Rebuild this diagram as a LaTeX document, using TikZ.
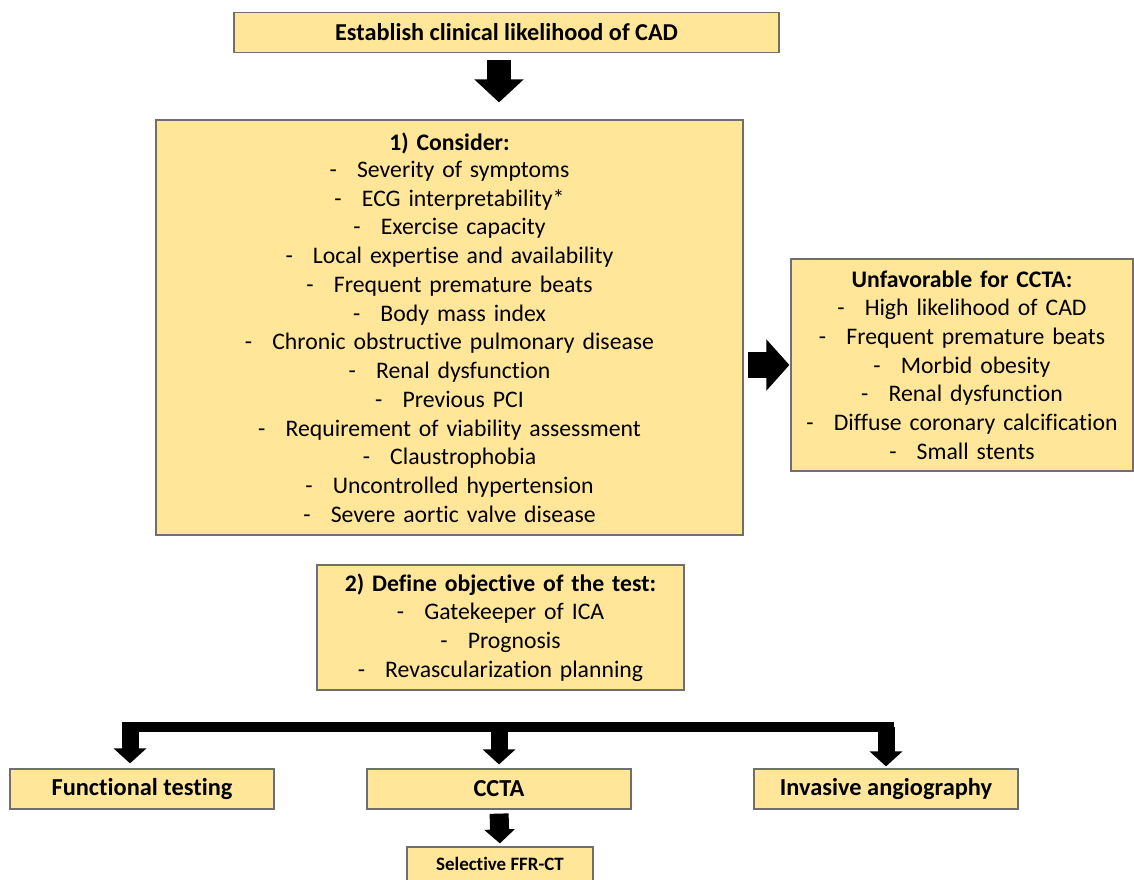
\documentclass[tikz,border=0pt]{standalone}
\usepackage{fontspec}
\setmainfont{Carlito}[Ligatures=NoCommon]
\usetikzlibrary{arrows.meta}
\definecolor{BoxFill}{HTML}{FFE699}
\definecolor{BoxLine}{HTML}{6F6F6F}
\newlength{\pxu}
\setlength{\pxu}{0.75pt}
\newcommand{\itm}[1]{-\hspace{0.85em}#1}

\begin{document}
\begin{tikzpicture}[x=0.75pt,y=-0.75pt,
  box/.style={draw=BoxLine,line width=0.9pt,fill=BoxFill,inner sep=0pt,align=center,
    font=\fontsize{17.8}{21.55}\selectfont},
  blockarrow/.style n args={3}{line width=#1pt,-{Triangle[width=#2pt,length=#3pt]}},
  bar/.style={line width=7.5pt}]
\useasboundingbox (0,0) rectangle (1134,879);

\node[box,minimum width=545\pxu,minimum height=40\pxu,font=\fontsize{18.2}{22}\selectfont] (likelihood) at (506.5,32.5)
  {\textbf{Establish clinical likelihood of CAD}};

\node[box,text width=587\pxu,minimum height=415\pxu] (consider) at (449.5,327.5)
  {\textbf{1) Consider:}\\[-1pt]
   \itm{Severity of symptoms}\\
   \itm{ECG interpretability*}\\
   \itm{Exercise capacity}\\
   \itm{Local expertise and availability}\\
   \itm{Frequent premature beats}\\
   \itm{Body mass index}\\
   \itm{Chronic obstructive pulmonary disease}\\
   \itm{Renal dysfunction}\\
   \itm{Previous PCI}\\
   \itm{Requirement of viability assessment}\\
   \itm{Claustrophobia}\\
   \itm{Uncontrolled hypertension}\\
   \itm{Severe aortic valve disease}};

\node[box,text width=342\pxu,minimum height=212\pxu] (unfav) at (962,365)
  {\textbf{Unfavorable for CCTA:}\\
   \itm{High likelihood of CAD}\\
   \itm{Frequent premature beats}\\
   \itm{Morbid obesity}\\
   \itm{Renal dysfunction}\\
   \itm{Diffuse coronary calcification}\\
   \itm{Small stents}};

\node[box,text width=367\pxu,minimum height=125\pxu] (objective) at (500.5,627.5)
  {\textbf{2) Define objective of the test:}\\
   \itm{Gatekeeper of ICA}\\
   \itm{Prognosis}\\
   \itm{Revascularization planning}};

\node[box,minimum width=264\pxu,minimum height=40\pxu,font=\fontsize{18.3}{22}\selectfont] (functional) at (142,789) {\textbf{Functional testing}};
\node[box,minimum width=264\pxu,minimum height=40\pxu,font=\fontsize{18.3}{22}\selectfont] (ccta) at (499,789) {\textbf{CCTA}};
\node[box,minimum width=264\pxu,minimum height=40\pxu,font=\fontsize{18.3}{22}\selectfont] (invasive) at (886,789) {\textbf{Invasive angiography}};
\node[box,minimum width=186\pxu,minimum height=34\pxu,font=\fontsize{14.2}{17}\selectfont] (ffr) at (500,864)
  {\textbf{Selective FFR-CT}};

\coordinate (mid) at (499,0);
\coordinate (bL) at (130,727);
\coordinate (bR) at (886,727);

\draw[blockarrow={18}{36}{17.25},shorten <=7\pxu,shorten >=17\pxu] (likelihood.south -| mid) -- (consider.north -| mid);
\draw[blockarrow={19.5}{37.5}{17.25},shorten <=4\pxu,shorten >=1\pxu] (unfav.west -| consider.east) -- (unfav.west);

\draw[bar,shorten <=-8\pxu,shorten >=-8\pxu] (bL) -- (bR);
\draw[blockarrow={12.75}{24}{11.25},shorten >=5\pxu] (bL) -- (functional.north -| bL);
\draw[blockarrow={12.75}{24}{11.25},shorten >=4\pxu] (bL -| ccta) -- (ccta.north);
\draw[blockarrow={12.75}{24}{11.25},shorten >=2\pxu] (bR) -- (invasive.north);
\draw[blockarrow={14.25}{22.5}{10.5},shorten <=4\pxu,shorten >=3\pxu] (ccta.south) -- (ffr.north);
\end{tikzpicture}
\end{document}
